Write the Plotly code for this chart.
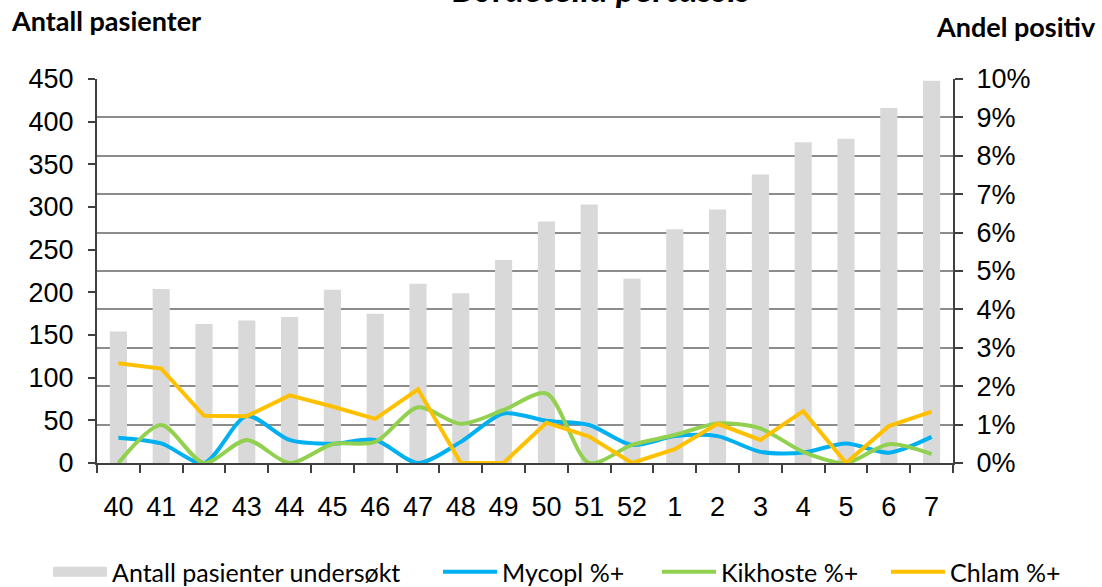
import plotly.graph_objects as go

weeks = ["40", "41", "42", "43", "44", "45", "46", "47", "48", "49", "50", "51", "52",
         "1", "2", "3", "4", "5", "6", "7"]
patients = [154, 204, 163, 167, 171, 203, 175, 210, 199, 238, 283, 303, 216,
            274, 297, 338, 376, 380, 416, 448]
mycopl = [0.66, 0.51, 0.0, 1.22, 0.60, 0.50, 0.60, 0.0, 0.55, 1.29, 1.10, 0.99, 0.47,
          0.70, 0.70, 0.29, 0.27, 0.51, 0.27, 0.68]
kikhoste = [0.0, 0.99, 0.0, 0.60, 0.0, 0.49, 0.55, 1.45, 1.02, 1.38, 1.81, 0.0, 0.47,
            0.73, 1.03, 0.90, 0.29, 0.0, 0.49, 0.23]
chlam = [2.60, 2.46, 1.23, 1.22, 1.76, 1.47, 1.15, 1.92, 0.0, 0.0, 1.05, 0.69, 0.0,
         0.36, 1.02, 0.60, 1.35, 0.0, 0.96, 1.34]

left_ticks = [0, 50, 100, 150, 200, 250, 300, 350, 400, 450]
right_ticks = list(range(0, 11))
right_labels = [f"{v}%" for v in right_ticks]

L, R, T, B = 97, 149, 79, 124
W, H = 1102, 587
PW, PH = W - L - R, H - T - B


def px_x(p):
    return (p - L) / PW


def px_y(p):
    return (H - B - p) / PH


tick_font = dict(family="Liberation Sans, Arial", size=27, color="#000000")
leg_font = dict(family="Lato", size=25, color="#000000")

fig = go.Figure()
fig.add_trace(go.Bar(x=weeks, y=patients, name="Antall pasienter undersøkt",
                     marker=dict(color="#D9D9D9", line=dict(width=0)),
                     showlegend=False))
# legend entry for the bars (drawn as a wide grey swatch like the reference)
fig.add_trace(go.Scatter(x=[None], y=[None], name="Antall pasienter undersøkt", mode="lines",
                         line=dict(color="#D9D9D9", width=14), legend="legend",
                         hoverinfo="skip"))
fig.add_trace(go.Scatter(x=weeks, y=mycopl, name="Mycopl %+", yaxis="y2", mode="lines",
                         line=dict(color="#00B0F0", width=4, shape="spline", smoothing=0.8),
                         legend="legend2"))
fig.add_trace(go.Scatter(x=weeks, y=kikhoste, name="Kikhoste %+", yaxis="y2", mode="lines",
                         line=dict(color="#92D050", width=4, shape="spline", smoothing=0.8),
                         legend="legend3"))
fig.add_trace(go.Scatter(x=weeks, y=chlam, name="Chlam %+", yaxis="y2", mode="lines",
                         line=dict(color="#FFC000", width=4, shape="linear"),
                         legend="legend4"))

leg_common = dict(orientation="h", yanchor="middle", xanchor="left", font=leg_font,
                  bgcolor="rgba(0,0,0,0)", itemwidth=54, tracegroupgap=0)
legend_x = [48, 438, 657, 886]
ly = px_y(572)

fig.update_layout(
    width=W, height=H,
    margin=dict(l=L, r=R, t=T, b=B, autoexpand=False),
    paper_bgcolor="white", plot_bgcolor="white",
    bargap=0.6,
    xaxis=dict(type="category", categoryorder="array", categoryarray=weeks,
               showline=True, linecolor="#404040", linewidth=2,
               ticks="outside", ticklen=8, tickwidth=1.5, tickcolor="#404040",
               tickson="boundaries", tickfont=tick_font, ticklabelstandoff=19,
               showgrid=False, automargin=False),
    yaxis=dict(range=[0, 450], tickvals=left_ticks, showline=True, linecolor="#404040",
               linewidth=2, ticks="outside", ticklen=7, tickwidth=1.5, tickcolor="#404040",
               tickfont=tick_font, ticklabelstandoff=9, showgrid=False, zeroline=False,
               automargin=False),
    yaxis2=dict(range=[0, 10], tickvals=right_ticks, ticktext=right_labels,
                overlaying="y", side="right", showline=True, linecolor="#404040",
                linewidth=2, ticks="outside", ticklen=8, tickwidth=1.5, tickcolor="#404040",
                tickfont=tick_font, ticklabelstandoff=8, showgrid=True,
                gridcolor="#8C8C8C", gridwidth=1.5, zeroline=False, automargin=False),
    legend=dict(x=px_x(legend_x[0]), y=ly, **leg_common),
    legend2=dict(x=px_x(legend_x[1]), y=ly, **leg_common),
    legend3=dict(x=px_x(legend_x[2]), y=ly, **leg_common),
    legend4=dict(x=px_x(legend_x[3]), y=ly, **leg_common),
    showlegend=True,
    annotations=[
        dict(text="<b><i>Bordetella pertussis</i></b>", xref="paper", yref="paper",
             x=px_x(601), y=px_y(12), xanchor="center", yanchor="bottom", showarrow=False,
             font=dict(family="Lato", size=36, color="#000000")),
        dict(text="<b>Antall pasienter</b>", xref="paper", yref="paper",
             x=px_x(9), y=px_y(20), xanchor="left", yanchor="middle", showarrow=False,
             font=dict(family="Lato", size=27, color="#000000")),
        dict(text="<b>Andel positiv</b>", xref="paper", yref="paper",
             x=px_x(1098), y=px_y(26), xanchor="right", yanchor="middle", showarrow=False,
             font=dict(family="Lato", size=27, color="#000000")),
    ],
)

fig.write_html("out.html", config={"displayModeBar": False},
               post_script="document.body.style.margin='0';")
